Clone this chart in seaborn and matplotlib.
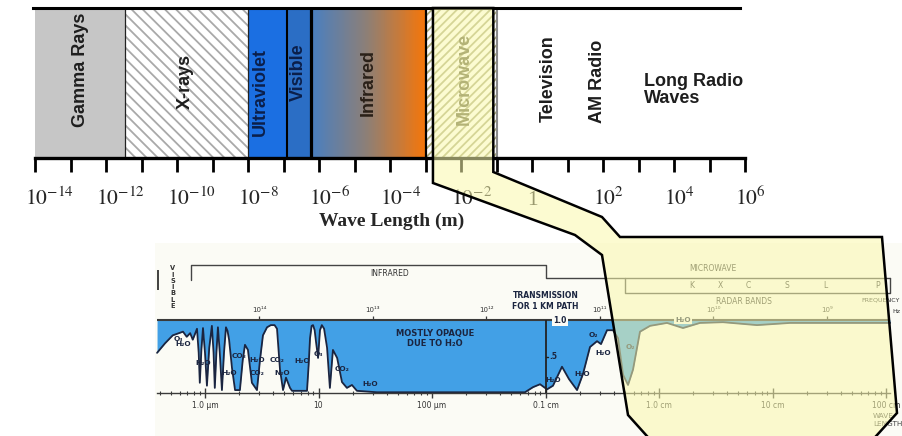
import numpy as np
import pandas as pd
import matplotlib
matplotlib.use("Agg")
import matplotlib.pyplot as plt
import seaborn as sns
from matplotlib import transforms
from matplotlib.patches import Polygon
from matplotlib.colors import LinearSegmentedColormap
from matplotlib.ticker import FixedLocator, NullLocator, LogLocator, NullFormatter

# ---------------- DATA ----------------
# Upper strip: bands of the electromagnetic spectrum (log10 of wavelength in m)
band_names = ["Gamma Rays", "X-rays", "Ultraviolet", "Visible", "Infrared", "Microwave", "Radio"]
band_lo_exp = [-14.0, -11.46, -8.0, -6.9, -6.22, -3.0, -1.0]
band_hi_exp = [-11.46, -8.0, -6.9, -6.22, -3.0, -1.0, 6.0]

label_texts = ["Gamma Rays", "X-rays", "Ultraviolet", "Visible", "Infrared",
               "Microwave", "Television", "AM Radio"]
label_exp = [-12.73, -9.76, -7.64, -6.57, -4.62, -1.91, 0.46, 1.85]
long_radio_label = "Long Radio\nWaves"
long_radio_exp = 3.15

axis_exps = list(range(-14, 7))
label_exps = [-14, -12, -10, -8, -6, -4, -2, 0, 2, 4, 6]
zoom_exp = [-2.79, -1.09]          # band that the callout magnifies

# Lower chart: atmospheric transmission for a 1 km path
wavelength_um = [0.378, 0.444, 0.52, 0.64, 0.69, 0.74, 0.78, 0.85, 0.88, 0.90,
                 0.93, 0.96, 1.0, 1.04, 1.09, 1.15, 1.19, 1.22, 1.26, 1.30,
                 1.35, 1.41, 1.47, 1.53, 1.58, 1.63, 1.73, 1.84, 2.03, 2.15,
                 2.25, 2.39, 2.59, 2.87, 3.05, 3.24, 3.52, 3.8, 4.1, 4.31,
                 4.58, 4.87, 5.17, 5.61, 5.84, 7.92, 8.2, 8.42, 8.7, 8.95,
                 9.25, 9.51, 9.91, 10.3, 10.7, 11.2, 11.9, 12.6, 13.4, 14.6,
                 16.1, 17.8, 19.7, 21.8, 32.7, 659, 776, 895, 1031, 1164,
                 1397, 1611, 1896, 2139, 2466, 2844, 3083, 3483, 3935, 4355,
                 4820, 5334, 5902, 6800, 8340, 11760, 16260, 22960, 36600, 73000,
                 142600, 393000, 1084000]
transmission = [0.55, 0.68, 0.79, 0.84, 0.77, 0.82, 0.73, 0.88, 0.55, 0.14,
                0.60, 0.89, 0.55, 0.10, 0.62, 0.92, 0.55, 0.07, 0.55, 0.90,
                0.55, 0.04, 0.55, 0.90, 0.85, 0.73, 0.34, 0.04, 0.04, 0.45,
                0.66, 0.59, 0.14, 0.04, 0.45, 0.79, 0.90, 0.93, 0.93, 0.88,
                0.32, 0.04, 0.21, 0.07, 0.03, 0.03, 0.40, 0.75, 0.92, 0.93,
                0.86, 0.70, 0.48, 0.86, 0.93, 0.88, 0.62, 0.07, 0.59, 0.48,
                0.15, 0.07, 0.11, 0.03, 0.01, 0.01, 0.08, 0.12, 0.05, 0.10,
                0.36, 0.19, 0.04, 0.26, 0.63, 0.71, 0.67, 0.86, 0.86, 0.75,
                0.25, 0.11, 0.32, 0.84, 0.92, 0.96, 0.89, 0.96, 0.97, 0.93,
                0.96, 0.96, 0.96]

mol_labels = ["O₃", "H₂O", "H₂O", "CO₂", "H₂O", "H₂O", "CO₂", "CO₂", "N₂O", "H₂O",
              "O₃", "CO₂", "H₂O", "H₂O", "H₂O", "H₂O", "O₂", "O₂"]
mol_wavelength_um = [0.578, 0.64, 0.96, 1.99, 1.63, 2.87, 2.87, 4.31, 4.77, 7.16,
                     9.9, 16.1, 28.4, 1164, 2099, 3213, 2624, 5546]
mol_T = [0.74, 0.67, 0.41, 0.51, 0.27, 0.45, 0.27, 0.45, 0.27, 0.44,
         0.53, 0.33, 0.12, 0.18, 0.26, 0.55, 0.79, 0.63]

freq_labels = ["10¹⁴", "10¹³", "10¹²", "10¹¹", "10¹⁰", "10⁹"]
freq_hz = [1e14, 1e13, 1e12, 1e11, 1e10, 1e9]

wl_tick_m = [1e-6, 1e-5, 1e-4, 1e-3, 1e-2, 1e-1, 1.0]
wl_tick_labels = ["1.0 µm", "10", "100 µm", "0.1 cm", "1.0 cm", "10 cm", "100 cm"]

radar_bands = ["K", "X", "C", "S", "L", "P"]
radar_wavelength_m = [0.0195, 0.0344, 0.0608, 0.134, 0.29, 0.85]

ir_range_m = [0.753e-6, 1e-3]
mw_range_m = [1e-3, 1.08]
radar_range_m = [5e-3, 1.08]
chart_range_m = [3.78e-7, 1.08]

# ---------------- STYLE ----------------
sns.set_theme(style="white")
plt.rcParams["font.family"] = ["DejaVu Sans"]
plt.rcParams["mathtext.fontset"] = "stix"
plt.rcParams["hatch.linewidth"] = 1.3

W, H = 902, 436
fig = plt.figure(figsize=(W / 100, H / 100), dpi=100)
fig.patch.set_facecolor("white")


def px_axes(x0, y0, x1, y1):
    return fig.add_axes([x0 / W, 1 - y1 / H, (x1 - x0) / W, (y1 - y0) / H])


# ======================= upper spectrum strip =======================
ax = px_axes(35, 8, 745, 158)
ax.set_xscale("log")

band_face = ["#c6c6c6", "white", "#1b6fe2", "#2b6ec5", None, "white", "white"]
band_hatch = [None, "\\\\\\", None, None, None, "////", None]
band_hatch_color = [None, "#a9a9a9", None, None, None, "#aaaa7c", None]
for lo, hi, fc, h, hc in zip(band_lo_exp, band_hi_exp, band_face, band_hatch, band_hatch_color):
    if fc is None:
        continue
    if h is None:
        ax.axvspan(10.0 ** lo, 10.0 ** hi, facecolor=fc, lw=0, zorder=0.5)
    else:
        ax.axvspan(10.0 ** lo, 10.0 ** hi, facecolor=fc, edgecolor=hc, hatch=h, lw=0, zorder=0.5)

# infrared colour ramp (blue -> orange), evenly spread on the log axis
ir_cmap = LinearSegmentedColormap.from_list("ir", ["#4a7fc0", "#8f7f74", "#f5760a"])
ir_i = band_names.index("Infrared")
ir_edges = np.logspace(band_lo_exp[ir_i], band_hi_exp[ir_i], 121)
ax.pcolormesh(ir_edges, [0, 1], np.linspace(0, 1, 120)[None, :], cmap=ir_cmap,
              shading="flat", zorder=0.6)

divider_exp = band_lo_exp[1:]
divider_lw = [0.9, 0.9, 1.5, 2.3, 1.6, 1.5]
divider_col = ["#222222", "#222222", "black", "black", "black", "#8a8a8a"]
for e, lw, c in zip(divider_exp, divider_lw, divider_col):
    ax.axvline(10.0 ** e, color=c, lw=lw, zorder=2)

ax.set_xlim(1e-14, 1e6)
ax.set_ylim(0, 1)

label_yfrac = [0.59, 0.51, 0.44, 0.57, 0.50, 0.53, 0.53, 0.51]
label_col = ["#1e1e1e", "#1e1e1e", "#0b1f4a", "#0b1f4a", "#2a2018", "#5e5e36", "#1e1e1e", "#1e1e1e"]
for t, e, yf, c in zip(label_texts, label_exp, label_yfrac, label_col):
    ax.text(10.0 ** e, yf, t, rotation=90, ha="center", va="center", fontsize=13,
            fontweight="bold", family="Liberation Sans", color=c, zorder=3)
ax.text(10.0 ** long_radio_exp, 0.45, long_radio_label, ha="left", va="center",
        fontsize=13, fontweight="bold", family="Liberation Sans", color="#1e1e1e",
        linespacing=1.0, zorder=3)

for s in ["left", "right"]:
    ax.spines[s].set_visible(False)
ax.spines["top"].set_color("black")
ax.spines["top"].set_linewidth(2.2)
ax.spines["top"].set_bounds(10.0 ** -14.06, 10.0 ** 5.86)
ax.spines["bottom"].set_color("black")
ax.spines["bottom"].set_linewidth(2.4)
ax.xaxis.set_major_locator(FixedLocator([10.0 ** e for e in axis_exps]))
ax.xaxis.set_minor_locator(NullLocator())
ax.tick_params(axis="x", which="major", bottom=True, direction="out", length=10,
               width=2.0, color="black", labelbottom=False)
ax.set_yticks([])

base = ax.get_xaxis_transform()
shifted = transforms.offset_copy(base, fig=fig, x=-10.4, y=0, units="dots")
for e in label_exps:
    if e == 0:
        ax.text(1.0, -0.313, "1", transform=base, ha="center", va="baseline",
                fontsize=15.5, family="Liberation Serif", clip_on=False)
    else:
        ax.text(10.0 ** e, -0.313, rf"$10^{{{e}}}$", transform=shifted, ha="left",
                va="baseline", fontsize=15.5, clip_on=False)

fig.text(392 / W, 1 - 221 / H, "Wave Length (m)", ha="center", va="center",
         fontsize=14, fontweight="bold", family="Liberation Serif")

# ======================= lower transmission chart =======================
axb = px_axes(155, 243, 902, 436)
axb.set_xscale("log")
axb.set_facecolor("#fbfbf5")

df = pd.DataFrame({"wavelength_m": np.array(wavelength_um) * 1e-6,
                   "transmission": transmission})
blue = "#42a0e6"
ink = "#1b2540"
axb.fill_between(df["wavelength_m"], df["transmission"], 1.0, color=blue, lw=0, zorder=1)
sns.lineplot(data=df, x="wavelength_m", y="transmission", ax=axb, color=ink,
             lw=1.3, sort=False, zorder=2)
axb.set_xlabel("")
axb.set_ylabel("")

axb.hlines(1.0, chart_range_m[0], chart_range_m[1], color="#3a3a3a", lw=1.5, zorder=2)

# wavelength axis along T = 0
for s in ["top", "left", "right"]:
    axb.spines[s].set_visible(False)
axb.spines["bottom"].set_position(("data", 0))
axb.spines["bottom"].set_bounds(chart_range_m[0], chart_range_m[1])
axb.spines["bottom"].set_color("#3a3a3a")
axb.spines["bottom"].set_linewidth(1.0)
axb.spines["bottom"].set_zorder(2.5)
axb.xaxis.set_major_locator(FixedLocator(wl_tick_m))
axb.set_xticklabels(wl_tick_labels)
axb.xaxis.set_minor_locator(LogLocator(base=10, subs=np.arange(2, 10)))
axb.xaxis.set_minor_formatter(NullFormatter())
axb.tick_params(axis="x", which="major", bottom=True, direction="inout", length=7,
                width=1.0, color="#3a3a3a", labelsize=5.5, labelcolor="#333333", pad=2.5)
axb.tick_params(axis="x", which="minor", bottom=True, direction="inout", length=3.5,
                width=0.8, color="#3a3a3a")
axb.set_yticks([])

axb.set_xlim(10.0 ** (-6 + (155 - 205) / 113.5), 10.0 ** (-6 + (902 - 205) / 113.5))
axb.set_ylim((393 - 436) / 73, (393 - 243) / 73)

# transmission scale at 0.1 cm
axb.vlines(1e-3, 0, 1.0, color="#222222", lw=1.3, zorder=3)
axb.plot([1e-3, 1.06e-3], [0.5, 0.5], color="#222222", lw=1.0, zorder=3)
axb.text(1.09e-3, 0.5, ".5", ha="left", va="center", fontsize=5.5, fontweight="bold",
         color=ink, zorder=3)
axb.text(1.34e-3, 1.0, "1.0", ha="center", va="center", fontsize=5.5, fontweight="bold",
         color=ink, zorder=3,
         bbox=dict(boxstyle="square,pad=0.15", fc="#fbfbf5", ec="none"))
axb.text(1.0e-3, 1.26, "TRANSMISSION\nFOR 1 KM PATH", ha="center", va="center",
         fontsize=5.5, fontweight="bold", color=ink, linespacing=1.15)

# frequency ticks on the top line
freq_lam = [3e8 / f for f in freq_hz]
axb.vlines(freq_lam, 1.0, 1.06, color="#3a3a3a", lw=0.9, zorder=2)
for lam, t in zip(freq_lam, freq_labels):
    axb.text(lam, 1.14, t, ha="center", va="center", fontsize=5, color="#333333")
axb.text(1.33, 1.27, "FREQUENCY", ha="right", va="center", fontsize=4.6, color="#333333")
axb.text(1.33, 1.12, "Hz", ha="right", va="center", fontsize=4.6, color="#333333")

# region brackets
axb.plot([ir_range_m[0], ir_range_m[0], ir_range_m[1], mw_range_m[0], mw_range_m[1]],
         [1.55, 1.75, 1.75, 1.575, 1.575], color="#444444", lw=1.0)
axb.plot([radar_range_m[0], radar_range_m[0], radar_range_m[1], radar_range_m[1]],
         [1.575, 1.37, 1.37, 1.575], color="#444444", lw=1.0)
axb.text(4.27e-5, 1.64, "INFRARED", ha="center", va="center", fontsize=5.5, color="#333333")
axb.text(3.0e-2, 1.70, "MICROWAVE", ha="center", va="center", fontsize=5.5, color="#333333")
axb.text(5.6e-2, 1.26, "RADAR BANDS", ha="center", va="center", fontsize=5.5, color="#333333")
for b, lam in zip(radar_bands, radar_wavelength_m):
    axb.text(lam, 1.47, b, ha="center", va="center", fontsize=5.5, color="#333333")

# visible marker
axb.vlines(0.386e-6, 1.41, 1.68, color="#222222", lw=1.2)
axb.text(0.52e-6, 1.45, "V\nI\nS\nI\nB\nL\nE", ha="center", va="center", fontsize=4.8,
         fontweight="bold", color="#333333", linespacing=1.05)

# absorption labels
for t, lam, tv in zip(mol_labels, mol_wavelength_um, mol_T):
    axb.text(lam * 1e-6, tv, t, ha="center", va="center", fontsize=5.3, fontweight="bold",
             color=ink, zorder=4)
axb.text(16260e-6, 1.0, "H₂O", ha="center", va="center", fontsize=5.3, fontweight="bold",
         color=ink, zorder=4, bbox=dict(boxstyle="square,pad=0.1", fc="#fbfbf5", ec="none"))
axb.text(106e-6, 0.75, "MOSTLY OPAQUE\nDUE TO H₂O", ha="center", va="center",
         fontsize=6, fontweight="bold", color=ink, linespacing=1.1, zorder=4)
axb.text(0.767, -0.37, "WAVE\nLENGTH", ha="left", va="center", fontsize=5.2,
         color="#444444", linespacing=1.25)

# ======================= callout polygon =======================
xl = ax.transData.transform((10.0 ** zoom_exp[0], 1))[0]
xr = ax.transData.transform((10.0 ** zoom_exp[1], 1))[0]
callout_px = [(xl, 8), (xl, 183), (575, 235), (602, 255), (628, 415), (655, 445),
              (868, 445), (897, 413), (882, 237), (620, 237), (602, 217), (xr, 172), (xr, 8)]
poly = Polygon([(x / W, 1 - y / H) for x, y in callout_px], closed=True,
               transform=fig.transFigure, facecolor=(250 / 255, 249 / 255, 172 / 255, 0.55),
               edgecolor="black", lw=1.8, zorder=10, clip_on=False)
fig.add_artist(poly)

fig.savefig("out.png", dpi=100)
